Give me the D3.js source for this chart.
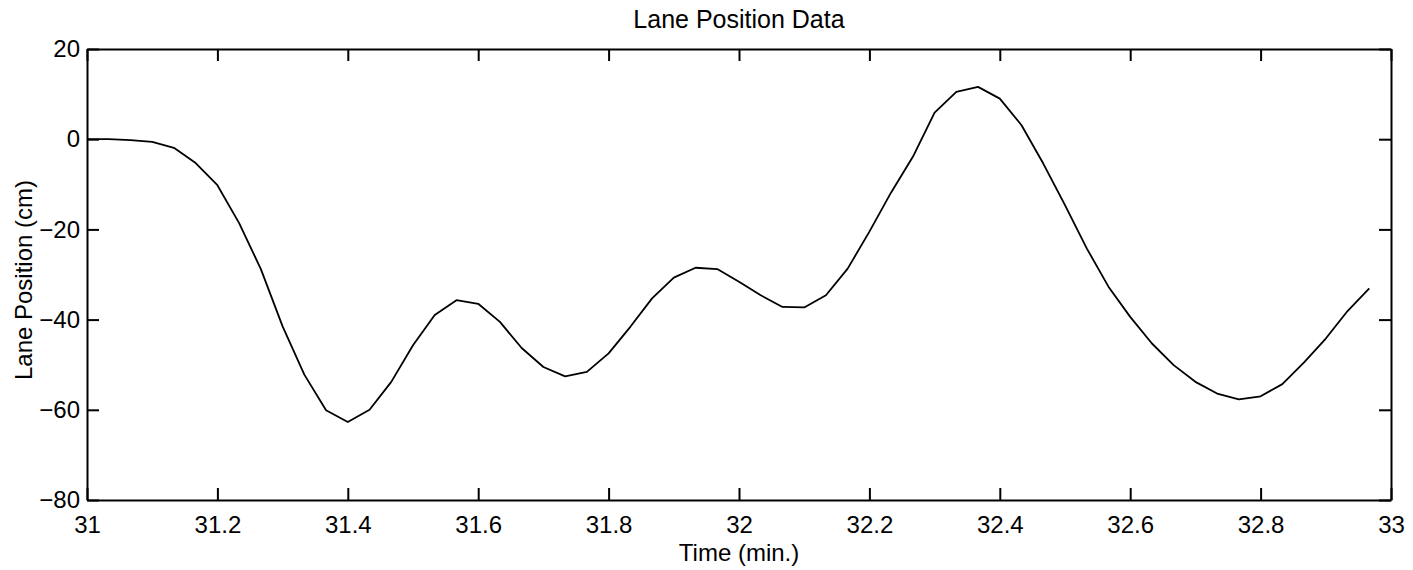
<!DOCTYPE html>
<html>
<head>
  <meta charset="utf-8">
  <script src="https://d3js.org/d3.v7.min.js"></script>
  <style>
    body { margin: 0; background: #fff; }
    text { font-family: "Liberation Sans", Arial, Helvetica, sans-serif; }
  </style>
</head>
<body>

<svg width="1413" height="570"></svg>

<script>
  // samples every 2 s (1/30 min) starting at 31.0 min
  const startTime = 31;
  const step = 1 / 30;
  const lanePos = [
    0, 0, -0.2, -0.6, -1.9, -5.3, -10.2, -18.6, -28.8, -41.5,
    -52.2, -60.1, -62.7, -60.0, -53.8, -45.7, -39.0, -35.7, -36.5, -40.5,
    -46.3, -50.5, -52.6, -51.6, -47.5, -41.6, -35.3, -30.7, -28.5, -28.8,
    -31.6, -34.6, -37.2, -37.3, -34.6, -28.7, -20.5, -11.8, -3.9, 5.9,
    10.5, 11.6, 9.0, 3.1, -5.4, -14.6, -24.2, -32.7, -39.4, -45.3,
    -50.1, -53.8, -56.4, -57.7, -57.0, -54.3, -49.5, -44.2, -38.1, -33.1
  ];
  const data = lanePos.map((v, i) => ({ t: startTime + i * step, v: v }));

  const xTicks = [31, 31.2, 31.4, 31.6, 31.8, 32, 32.2, 32.4, 32.6, 32.8, 33];
  const yTicks = [-80, -60, -40, -20, 0, 20];

  const mLeft = 87, mRight = 1391, mTop = 49, mBottom = 500;

  const svg = d3.select("svg");

  const x = d3.scaleLinear().domain([31, 33]).range([mLeft, mRight]);
  const y = d3.scaleLinear().domain([-80, 20]).range([mBottom, mTop]);

  const fmt = d => d3.format("")(d);

  // bottom axis
  svg.append("g")
    .attr("transform", `translate(0,${mBottom})`)
    .call(d3.axisBottom(x).tickValues(xTicks).tickFormat(fmt).tickSizeInner(-12).tickSizeOuter(0).tickPadding(16));

  // top axis (ticks only)
  svg.append("g")
    .attr("transform", `translate(0,${mTop})`)
    .call(d3.axisTop(x).tickValues(xTicks).tickFormat("").tickSizeInner(-12).tickSizeOuter(0));

  // left axis
  svg.append("g")
    .attr("transform", `translate(${mLeft},0)`)
    .call(d3.axisLeft(y).tickValues(yTicks).tickFormat(fmt).tickSizeInner(-12).tickSizeOuter(0).tickPadding(7));

  // right axis (ticks only)
  svg.append("g")
    .attr("transform", `translate(${mRight},0)`)
    .call(d3.axisRight(y).tickValues(yTicks).tickFormat("").tickSizeInner(-12).tickSizeOuter(0));

  svg.selectAll(".domain").attr("stroke", "#000").attr("stroke-width", 2);
  svg.selectAll(".tick line").attr("stroke", "#000").attr("stroke-width", 2);
  svg.selectAll(".tick text")
    .attr("fill", "#000")
    .style("font-size", "24px");

  // line
  const line = d3.line()
    .x(d => x(d.t))
    .y(d => y(d.v));

  svg.append("path")
    .datum(data)
    .attr("fill", "none")
    .attr("stroke", "#000")
    .attr("stroke-width", 1.8)
    .attr("stroke-linejoin", "round")
    .attr("d", line);

  //title and labels
  svg.append("text")
    .attr("x", (mLeft + mRight) / 2)
    .attr("y", 28)
    .attr("text-anchor", "middle")
    .style("font-size", "25px")
    .text("Lane Position Data");

  svg.append("text")
    .attr("x", (mLeft + mRight) / 2)
    .attr("y", 561)
    .attr("text-anchor", "middle")
    .style("font-size", "24px")
    .text("Time (min.)");

  svg.append("text")
    .attr("transform", "rotate(-90)")
    .attr("x", -280)
    .attr("y", 32)
    .attr("text-anchor", "middle")
    .style("font-size", "24px")
    .text("Lane Position (cm)");
</script>

</body>
</html>
